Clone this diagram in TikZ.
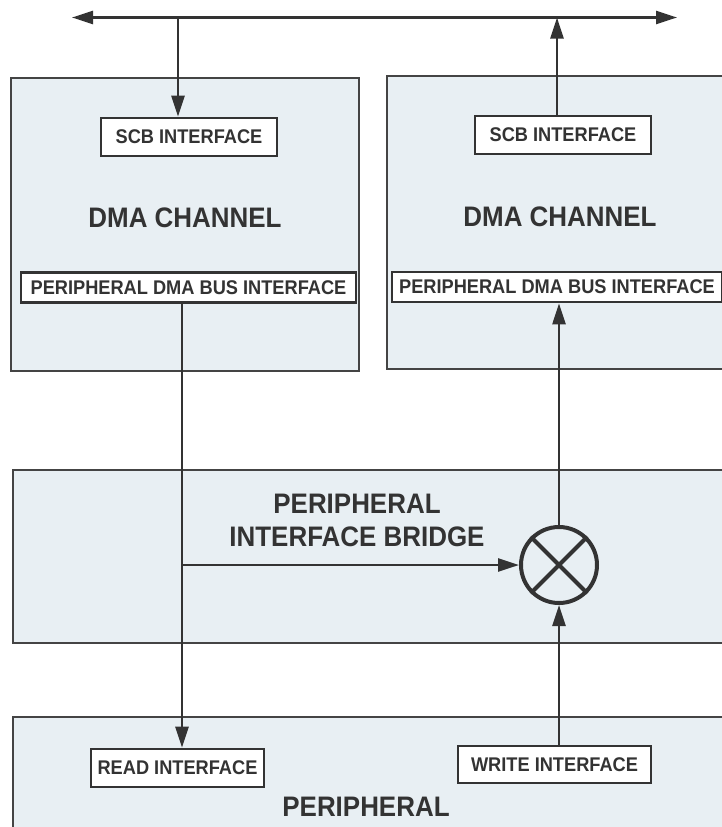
\documentclass[tikz,border=0pt]{standalone}
\usepackage{fontspec}
\setmainfont{Liberation Sans}
\newfontfamily\narrowsans[FakeStretch=0.92]{Liberation Sans}
\usepackage{tikz}
\usetikzlibrary{arrows.meta,calc}
\definecolor{panel}{HTML}{E8EFF3}
\definecolor{ink}{HTML}{333333}
\definecolor{rim}{HTML}{444444}
\tikzset{
  blockbox/.style={
    rectangle, draw=rim, fill=panel, line width=1.8pt,
    anchor=north west, inner sep=0pt
  },
  portbox/.style={
    rectangle, draw=ink, fill=white, line width=2.6pt,
    font=\narrowsans\fontsize{19.8}{22}\selectfont\bfseries, text=ink,
    inner sep=0pt, minimum height=#1
  },
  portbox/.default=38pt,
  blocklabel/.style={
    font=\narrowsans\fontsize{28.2}{33}\selectfont\bfseries, text=ink,
    align=center, inner sep=0pt
  },
  busarrow/.style={
    -{Triangle[length=21pt, width=13pt]}, line width=2.4pt, color=ink
  },
  mixer/.style={
    circle, draw=ink, line width=4pt, minimum size=76pt, inner sep=0pt
  },
}

\begin{document}
\begin{tikzpicture}[x=1pt, y=-1pt]
  \useasboundingbox (0,0) rectangle (722,827);
  \begin{scope}
    \clip (0,0) rectangle (722,827);
    % blocks
    \node[blockbox, minimum width=348pt, minimum height=293pt] (dmaL) at (10,77) {};
    \node[blockbox, minimum width=344pt, minimum height=293pt] (dmaR) at (386,75) {};
    \node[blockbox, minimum width=718pt, minimum height=173pt] (bridge) at (12,469) {};
    \node[blockbox, minimum width=718pt, minimum height=130pt] (periph) at (12,716) {};
  \end{scope}

  \node[blocklabel] (dmaLtxt) at (185,218) {DMA CHANNEL};
  \node[blocklabel] (dmaRtxt) at (560,217) {DMA CHANNEL};
  \node[blocklabel] (bridgetxt) at (357,520) {PERIPHERAL\\INTERFACE BRIDGE};
  \node[blocklabel] (periphtxt) at (366,807) {PERIPHERAL};

  % interfaces
  \node[portbox, minimum width=176pt] (scbL) at (189,137) {SCB INTERFACE};
  \node[portbox, minimum width=176pt] (scbR) at (563,135) {SCB INTERFACE};
  \node[portbox=30pt, minimum width=335pt] (pdbiL) at (188.5,287.5) {PERIPHERAL DMA BUS INTERFACE};
  \node[portbox=30pt, minimum width=330pt] (pdbiR) at (557,287) {PERIPHERAL DMA BUS INTERFACE};
  \node[portbox, minimum width=173pt] (readI) at (177.5,768) {READ INTERFACE};
  \node[portbox=37pt, minimum width=193pt] (writeI) at (554.5,764.5) {WRITE INTERFACE};

  \node[mixer] (mix) at (559,565) {};
  \draw[ink, line width=4pt] (mix.north east) -- (mix.south west);
  \draw[ink, line width=4pt] (mix.north west) -- (mix.south east);

  % system bus
  \coordinate (busL) at (72,17.5);
  \coordinate (busR) at (677,17.5);
  \draw[busarrow, {Triangle[length=21pt, width=13pt]}-{Triangle[length=21pt, width=13pt]}] (busL) -- (busR);
  \coordinate (tapL) at (178,17.5);
  \coordinate (tapR) at (557,17.5);
  \draw[busarrow] (tapL) -- (tapL |- scbL.north);
  \draw[busarrow] (tapR |- scbR.north) -- (tapR);

  % data paths
  \coordinate (rdx) at (182,0);
  \draw[busarrow] (rdx |- pdbiL.south) -- (rdx |- readI.north);
  \draw[busarrow] (rdx |- mix.west) -- (mix.west);
  \draw[busarrow] (mix.north) -- (mix.north |- pdbiR.south);
  \draw[busarrow] (mix.south |- writeI.north) -- (mix.south);
\end{tikzpicture}
\end{document}
